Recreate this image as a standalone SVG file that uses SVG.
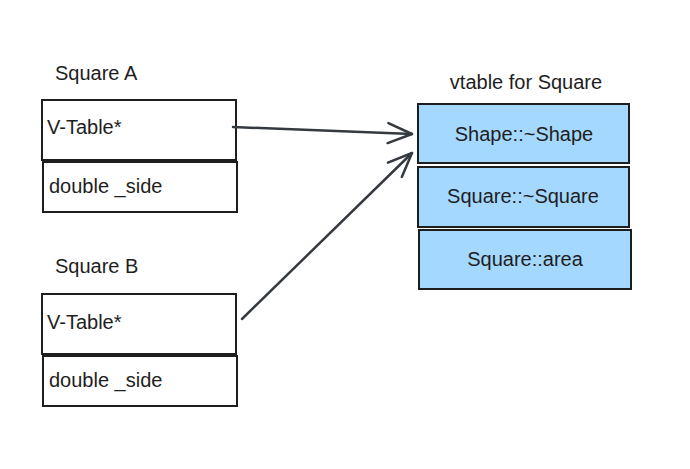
<svg xmlns="http://www.w3.org/2000/svg" width="690" height="469" viewBox="0 0 690 469">
<style>
.box{fill:#ffffff;stroke:#1e1e1e;stroke-width:2}
.vt{fill:#a5d8ff;stroke:#1e1e1e;stroke-width:2}
text{font-family:"Liberation Sans",Arial,sans-serif;font-size:20px;fill:#1e1e1e}
.c{text-anchor:middle}
.conn{fill:none;stroke:#343a40;stroke-width:2.5;stroke-linecap:round}
</style>
<defs>
<marker id="ah" markerUnits="userSpaceOnUse" markerWidth="40" markerHeight="40" refX="26" refY="13" orient="auto">
<path d="M2 3 L26 13 L2 23" fill="none" stroke="#343a40" stroke-width="2.5" stroke-linecap="round" stroke-linejoin="round"/>
</marker>
</defs>
<rect width="690" height="469" fill="#ffffff"/>
<g id="squareA">
<text x="55" y="80">Square A</text>
<rect class="box" x="42" y="100" width="194" height="60"/>
<text x="47" y="134">V-Table*</text>
<rect class="box" x="43" y="162" width="194" height="50"/>
<text x="49" y="193">double _side</text>
</g>
<g id="squareB">
<text x="55" y="273">Square B</text>
<rect class="box" x="42" y="294" width="194" height="60"/>
<text x="47" y="329">V-Table*</text>
<rect class="box" x="43" y="356" width="194" height="50"/>
<text x="49" y="387">double _side</text>
</g>
<g id="vtable">
<text class="c" x="526" y="89">vtable for Square</text>
<g id="v1">
<rect class="vt" x="418" y="104" width="211" height="59"/>
<text class="c" x="524" y="141">Shape::~Shape</text>
</g>
<g id="v2">
<rect class="vt" x="418" y="167" width="211" height="60"/>
<text class="c" x="523" y="203">Square::~Square</text>
</g>
<g id="v3">
<rect class="vt" x="419" y="230" width="212" height="59"/>
<text class="c" x="525" y="266">Square::area</text>
</g>
</g>
<g id="connectors">
<path class="conn" d="M233 127 L412 134" marker-end="url(#ah)"/>
<path class="conn" d="M242 319 L412 153" marker-end="url(#ah)"/>
</g>
</svg>
